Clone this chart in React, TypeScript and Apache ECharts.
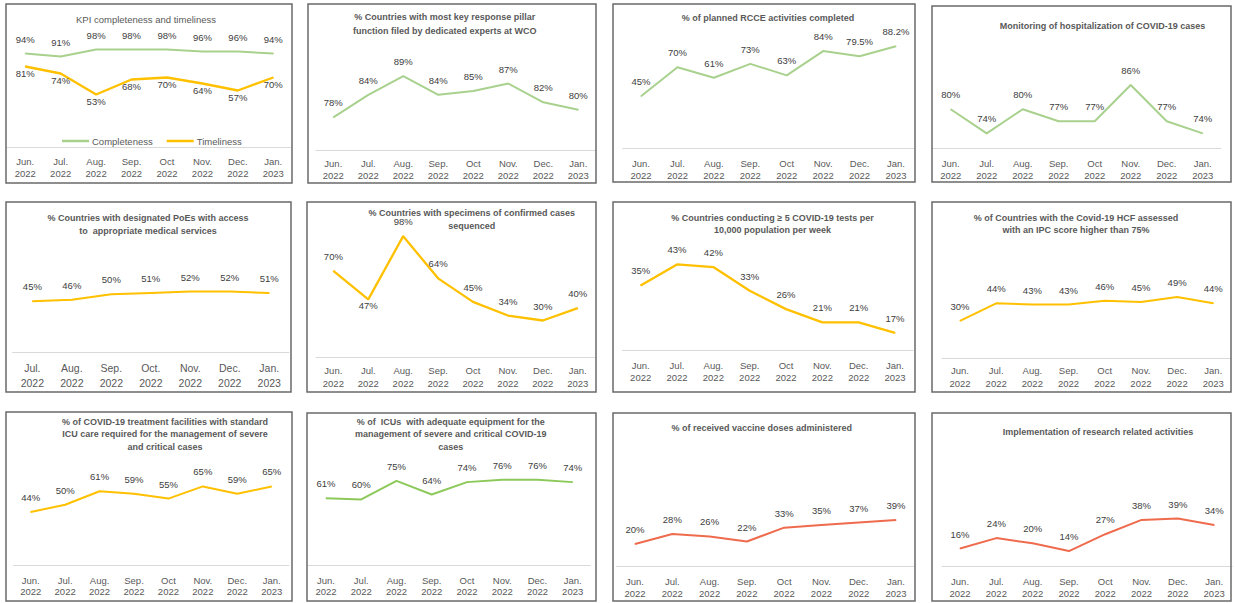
import React, { useEffect, useRef } from "react";
import * as echarts from "echarts";

// ---------- categories ----------
const months8 = ["Jun.\n2022", "Jul.\n2022", "Aug.\n2022", "Sep.\n2022", "Oct\n2022", "Nov.\n2022", "Dec.\n2022", "Jan.\n2023"];
const months7 = ["Jul.\n2022", "Aug.\n2022", "Sep.\n2022", "Oct.\n2022", "Nov.\n2022", "Dec.\n2022", "Jan.\n2023"];

// ---------- series values (%) ----------
const completeness = [94, 91, 98, 98, 98, 96, 96, 94];
const timeliness = [81, 74, 53, 68, 70, 64, 57, 70];
const keyPillarExperts = [78, 84, 89, 84, 85, 87, 82, 80];
const rcceCompleted = [45, 70, 61, 73, 63, 84, 79.5, 88.2];
const hospitalizationMonitoring = [80, 74, 80, 77, 77, 86, 77, 74];
const poesMedicalAccess = [45, 46, 50, 51, 52, 52, 51];
const specimensSequenced = [70, 47, 98, 64, 45, 34, 30, 40];
const testsPer10k = [35, 43, 42, 33, 26, 21, 21, 17];
const ipcScoreAbove75 = [30, 44, 43, 43, 46, 45, 49, 44];
const icuStandardCare = [44, 50, 61, 59, 55, 65, 59, 65];
const icuEquipment = [61, 60, 75, 64, 74, 76, 76, 74];
const vaccineAdministered = [20, 28, 26, 22, 33, 35, 37, 39];
const researchActivities = [16, 24, 20, 14, 27, 38, 39, 34];

// ---------- titles ----------
const titles: string[][] = [
  ["KPI completeness and timeliness"],
  ["% Countries with most key response pillar", "function filed by dedicated experts at WCO"],
  ["% of planned RCCE activities completed"],
  ["Monitoring of hospitalization of COVID-19 cases"],
  ["% Countries with designated PoEs with access", "to  appropriate medical services"],
  ["% Countries with specimens of confirmed cases", "sequenced"],
  ["% Countries conducting \u2265 5 COVID-19 tests per", "10,000 population per week"],
  ["% of Countries with the Covid-19 HCF assessed", "with an IPC score higher than 75%"],
  ["% of COVID-19 treatment facilities with standard", "ICU care required for the management of severe", "and critical cases"],
  ["% of  ICUs  with adequate equipment for the", "management of severe and critical COVID-19", "cases"],
  ["% of received vaccine doses administered"],
  ["Implementation of research related activities"],
];

const GREEN = "#A9D18E";
const YELLOW = "#FFC000";
const GREEN2 = "#8DC95A";
const RED = "#EF6B4D";

// ---------- panel layout (pixel geometry & styles) ----------
type Panel = {
  box: number[];
  L: number; R: number; axisY: number; min: number; scale: number;
  margin: number; lh: number; fs?: number;
  cats: string[];
  series: { name: string; data: number[]; color: string; below?: number[]; width?: number }[];
  title: { x: number; y: number; lh: number; bold: boolean; fs?: number };
};

const panels: Panel[] = [
  { box: [6, 4, 286, 179], L: 7.5, R: 291, axisY: 147.5, min: 0, scale: 1.0, margin: 8.3, lh: 11.7, cats: months8,
    series: [
      { name: "Completeness", data: completeness, color: GREEN },
      { name: "Timeliness", data: timeliness, color: YELLOW, below: [0, 1, 2, 3, 4, 5, 6, 7], width: 2.3 },
    ], title: { x: 146, y: 19, lh: 12, bold: false, fs: 9.5 } },
  { box: [308, 4, 288, 179], L: 315.8, R: 595.8, axisY: 150.7, min: 69.1, scale: 3.75, margin: 6.8, lh: 11.7, cats: months8,
    series: [{ name: "s2", data: keyPillarExperts, color: GREEN }], title: { x: 444.7, y: 17.3, lh: 14, bold: true } },
  { box: [613, 4, 302, 178], L: 622.8, R: 914.2, axisY: 148.3, min: 0, scale: 1.157, margin: 9.2, lh: 11.7, cats: months8,
    series: [{ name: "s3", data: rcceCompleted, color: GREEN }], title: { x: 768, y: 18, lh: 12, bold: true } },
  { box: [932, 6, 299, 176], L: 932.7, R: 1220.7, axisY: 148.3, min: 70.3, scale: 4.03, margin: 9.2, lh: 11.7, cats: months8,
    series: [{ name: "s4", data: hospitalizationMonitoring, color: GREEN }], title: { x: 1102.5, y: 26, lh: 12, bold: true } },
  { box: [6, 202, 285, 190], L: 12.6, R: 289, axisY: 352.3, min: 8, scale: 1.38, margin: 8.8, lh: 14.4, fs: 10.5, cats: months7,
    series: [{ name: "s5", data: poesMedicalAccess, color: YELLOW }], title: { x: 148, y: 218.3, lh: 12.7, bold: true } },
  { box: [307, 202, 289, 190], L: 315.9, R: 595.2, axisY: 357.7, min: 0, scale: 1.24, margin: 6.6, lh: 12.7, cats: months8,
    series: [{ name: "s6", data: specimensSequenced, color: YELLOW, below: [1], width: 2.3 }], title: { x: 471.7, y: 213.3, lh: 12.7, bold: true } },
  { box: [613, 202, 302, 190], L: 622.5, R: 913.2, axisY: 350.7, min: 10.2, scale: 2.63, margin: 9, lh: 12, cats: months8,
    series: [{ name: "s7", data: testsPer10k, color: YELLOW, width: 2.3 }], title: { x: 772.5, y: 218.3, lh: 12, bold: true } },
  { box: [932, 202, 299, 190], L: 941.9, R: 1231.4, axisY: 358.3, min: 0, scale: 1.25, margin: 6, lh: 12.7, cats: months8,
    series: [{ name: "s8", data: ipcScoreAbove75, color: YELLOW }], title: { x: 1076, y: 217.7, lh: 12.3, bold: true } },
  { box: [6, 412, 286, 189], L: 13.5, R: 288.9, axisY: 565.7, min: 0, scale: 1.22, margin: 8.5, lh: 11.7, cats: months8,
    series: [{ name: "s9", data: icuStandardCare, color: YELLOW }], title: { x: 165, y: 421.7, lh: 12.5, bold: true } },
  { box: [307, 413, 289, 188], L: 308.4, R: 590.3, axisY: 565.7, min: 6.6, scale: 1.24, margin: 8.5, lh: 11.7, cats: months8,
    series: [{ name: "s10", data: icuEquipment, color: GREEN2 }], title: { x: 450.8, y: 421.7, lh: 12.5, bold: true } },
  { box: [613, 413, 302, 188], L: 616.4, R: 914.6, axisY: 566.7, min: 2, scale: 1.26, margin: 9.2, lh: 11.7, cats: months8,
    series: [{ name: "s11", data: vaccineAdministered, color: RED }], title: { x: 761.7, y: 427.7, lh: 12, bold: true } },
  { box: [932, 413, 299, 188], L: 941.9, R: 1232.3, axisY: 566.7, min: 2, scale: 1.3, margin: 9.2, lh: 11.7, cats: months8,
    series: [{ name: "s12", data: researchActivities, color: RED }], title: { x: 1098, y: 431.7, lh: 12, bold: true } },
];

const FONT = '"Liberation Sans", Arial, sans-serif';

function buildOption() {
  const grid: any[] = [];
  const xAxis: any[] = [];
  const yAxis: any[] = [];
  const series: any[] = [];
  const graphic: any[] = [];

  panels.forEach((p, i) => {
    const top = p.box[1] + 2;
    const max = p.min + (p.axisY - top) / p.scale;
    grid.push({ left: p.L, top, width: p.R - p.L, height: p.axisY - top, containLabel: false, outerBoundsMode: "none" });
    xAxis.push({
      type: "category", gridIndex: i, data: p.cats, boundaryGap: true,
      axisLine: { show: true, lineStyle: { color: "#D9D9D9", width: 1 } },
      axisTick: { show: false },
      axisLabel: { interval: 0, color: "#595959", fontFamily: FONT, fontSize: p.fs || 9.5, lineHeight: p.lh, margin: p.margin },
      splitLine: { show: false },
    });
    yAxis.push({ type: "value", gridIndex: i, min: p.min, max, show: false, splitLine: { show: false } });
    p.series.forEach((s) => {
      series.push({
        type: "line", name: s.name, xAxisIndex: i, yAxisIndex: i,
        data: s.data.map((v, k) => (s.below && s.below.includes(k) ? { value: v, label: { position: "bottom", distance: 1 } } : v)),
        symbol: "circle", symbolSize: 1, showSymbol: true,
        lineStyle: { color: s.color, width: s.width || 2 }, itemStyle: { color: s.color },
        label: { show: true, position: "top", distance: 9, color: "#404040", fontFamily: FONT, fontSize: 9.5, formatter: "{c}%" },
        emphasis: { disabled: true }, silent: true,
      });
    });
    graphic.push({
      type: "rect", silent: true, z: 10,
      shape: { x: p.box[0], y: p.box[1], width: p.box[2], height: p.box[3] },
      style: { fill: "none", stroke: "#6A6A6A", lineWidth: 1.5 },
    });
    graphic.push({
      type: "text", silent: true, z: 10,
      x: p.title.x, y: p.title.y - p.title.lh / 2,
      style: {
        text: titles[i].join("\n"), fill: "#595959",
        font: `${p.title.bold ? "bold " : ""}${p.title.fs || 9}px ${FONT}`,
        align: "center", textAlign: "center", verticalAlign: "top", textVerticalAlign: "top",
        lineHeight: p.title.lh,
      },
    });
  });

  return {
    animation: false,
    backgroundColor: "#FFFFFF",
    grid, xAxis, yAxis, series, graphic,
    legend: {
      data: ["Completeness", "Timeliness"], left: 57, top: 131, icon: "rect",
      itemWidth: 27, itemHeight: 2.5, itemGap: 14, selectedMode: false,
      textStyle: { color: "#595959", fontFamily: FONT, fontSize: 9.5, padding: [0, 0, 0, -2] },
    },
  };
}

export default function App() {
  const ref = useRef<HTMLDivElement>(null);
  useEffect(() => {
    if (!ref.current) return;
    const chart = echarts.init(ref.current, undefined, { renderer: "svg" });
    chart.setOption(buildOption() as any);
    return () => chart.dispose();
  }, []);
  return <div ref={ref} style={{ position: "absolute", left: 0, top: 0, width: 1235, height: 603, background: "#fff" }} />;
}
